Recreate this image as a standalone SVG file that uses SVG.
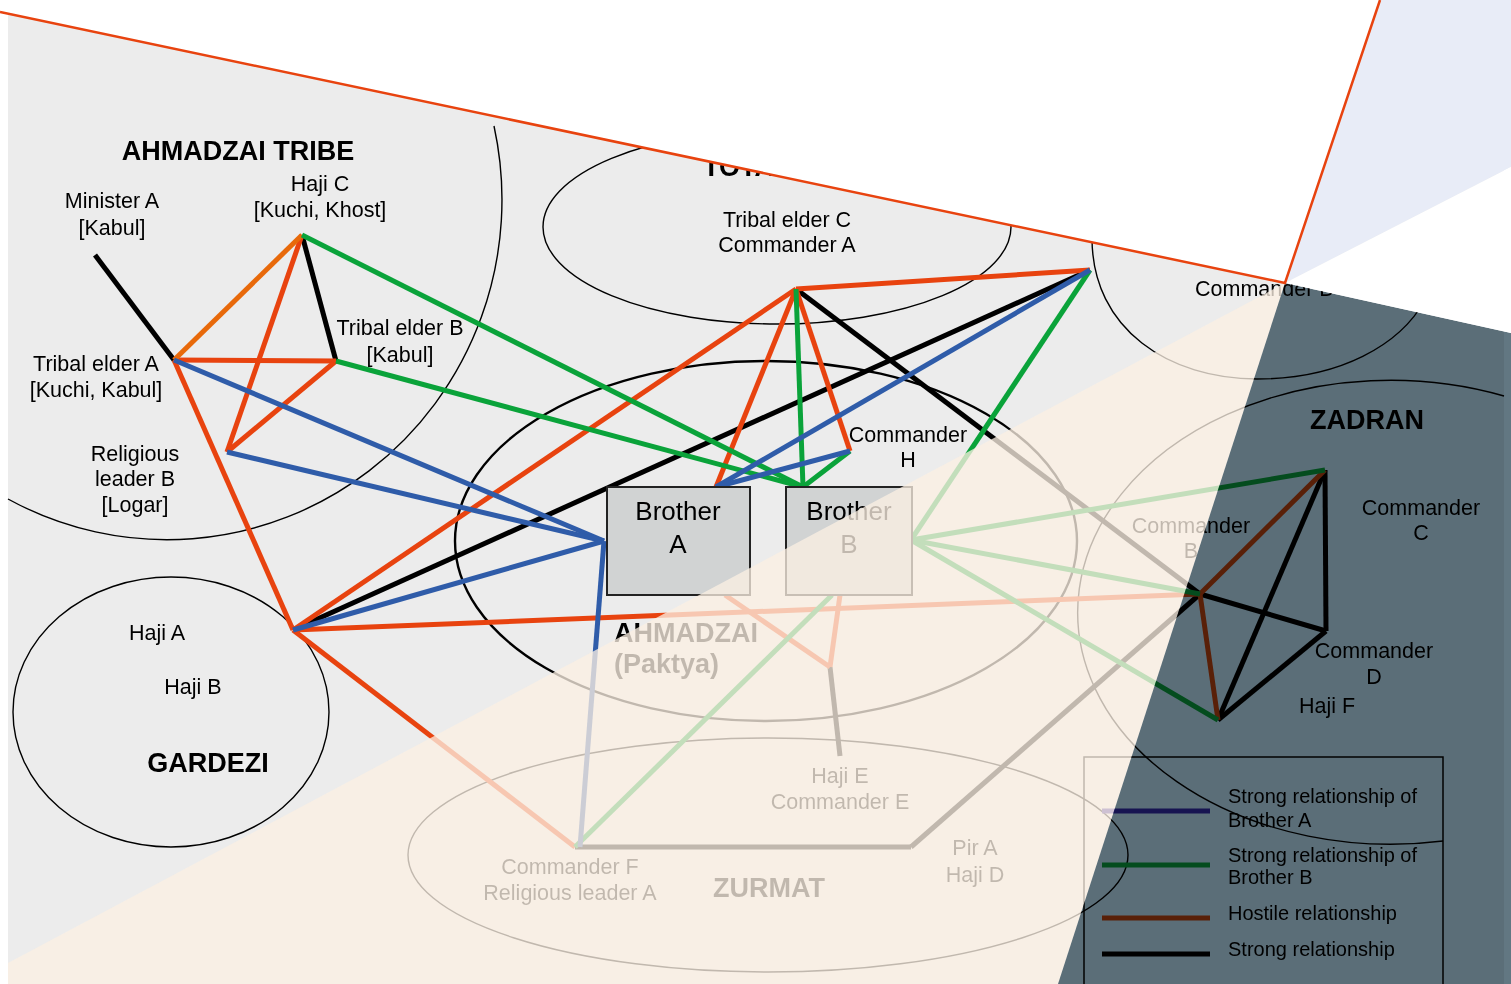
<svg xmlns="http://www.w3.org/2000/svg" width="1511" height="984" viewBox="0 0 1511 984">
<style>
text{font-family:"Liberation Sans",Arial,sans-serif;font-size:21.5px;fill:#000;text-anchor:middle}
.t{font-weight:bold;font-size:27px}
.bro{font-size:26px}
.lg{font-size:20px;text-anchor:start}
.ring{fill:none;stroke:#000;stroke-width:1.4}
.thick{stroke-width:2.4}
#connectors line{stroke-width:5}
.k{stroke:#000}.r{stroke:#e8430f}.o{stroke:#e8690a}.g{stroke:#0aa33a}.b{stroke:#2f5ca9}
.box{fill:#d1d3d3;stroke:#222;stroke-width:2}
</style>
<rect width="1511" height="984" fill="#fff"/>
<rect x="8" y="0" width="1496" height="984" fill="#ececec"/>
<g id="groups">
<path class="ring" d="M494,126 A335,340 0 0,1 8,499"/>
<ellipse class="ring" cx="777" cy="227" rx="234" ry="97"/>
<path class="ring" d="M1092,238 C1092,330 1170,379 1257,379 C1340,379 1400,345 1425,300"/>
<ellipse class="ring thick" cx="766" cy="541" rx="311" ry="180"/>
<ellipse class="ring" cx="171" cy="712" rx="158" ry="135"/>
<ellipse class="ring" cx="768" cy="855" rx="360" ry="117"/>
<path class="ring" d="M1504,396 A313,232 0 1,0 1443,841"/>
</g>
<g id="connectors">
<line class="k" x1="95" y1="255" x2="174" y2="360"/>
<line class="k" x1="302" y1="235" x2="336" y2="361"/>
<line class="k" x1="293" y1="630" x2="1090" y2="270"/>
<line class="k" x1="796" y1="289" x2="1200" y2="594"/>
<line class="k" x1="1200" y1="594" x2="1326" y2="631"/>
<line class="k" x1="1325" y1="470" x2="1326" y2="631"/>
<line class="k" x1="1325" y1="470" x2="1218" y2="720"/>
<line class="k" x1="1326" y1="631" x2="1218" y2="720"/>
<line class="k" x1="1200" y1="594" x2="911" y2="847"/>
<line class="k" x1="575" y1="847" x2="911" y2="847"/>
<line class="k" x1="830" y1="667" x2="840" y2="756"/>
<line class="r" x1="302" y1="235" x2="227" y2="452"/>
<line class="r" x1="174" y1="360" x2="336" y2="361"/>
<line class="r" x1="336" y1="361" x2="227" y2="452"/>
<line class="r" x1="174" y1="360" x2="293" y2="630"/>
<line class="r" x1="293" y1="630" x2="796" y2="289"/>
<line class="r" x1="796" y1="289" x2="1090" y2="270"/>
<line class="r" x1="796" y1="289" x2="716" y2="487"/>
<line class="r" x1="796" y1="289" x2="850" y2="451"/>
<line class="r" x1="293" y1="630" x2="1200" y2="594"/>
<line class="r" x1="293" y1="630" x2="575" y2="847"/>
<line class="r" x1="725" y1="595" x2="830" y2="667"/>
<line class="r" x1="840" y1="595" x2="830" y2="667"/>
<line class="r" x1="1200" y1="594" x2="1325" y2="470"/>
<line class="r" x1="1200" y1="594" x2="1218" y2="720"/>
<line class="o" x1="302" y1="235" x2="174" y2="360"/>
<line class="g" x1="302" y1="235" x2="803" y2="487"/>
<line class="g" x1="336" y1="361" x2="803" y2="487"/>
<line class="g" x1="796" y1="289" x2="803" y2="487"/>
<line class="g" x1="850" y1="451" x2="803" y2="487"/>
<line class="g" x1="911" y1="540" x2="1090" y2="270"/>
<line class="g" x1="911" y1="540" x2="1325" y2="470"/>
<line class="g" x1="911" y1="540" x2="1200" y2="594"/>
<line class="g" x1="911" y1="540" x2="1218" y2="720"/>
<line class="g" x1="832" y1="595" x2="575" y2="847"/>
<line class="b" x1="174" y1="360" x2="604" y2="541"/>
<line class="b" x1="227" y1="452" x2="604" y2="541"/>
<line class="b" x1="293" y1="630" x2="604" y2="541"/>
<line class="b" x1="604" y1="541" x2="580" y2="847"/>
<line class="b" x1="716" y1="487" x2="1090" y2="270"/>
<line class="b" x1="716" y1="487" x2="850" y2="451"/>
</g>
<g id="ahmadzai-tribe"><text class="t" x="238" y="160">AHMADZAI TRIBE</text></g>
<g id="minister-a"><text x="112" y="208">Minister A</text><text x="112" y="235">[Kabul]</text></g>
<g id="haji-c"><text x="320" y="191">Haji C</text><text x="320" y="217">[Kuchi, Khost]</text></g>
<g id="tribal-elder-b"><text x="400" y="335">Tribal elder B</text><text x="400" y="362">[Kabul]</text></g>
<g id="tribal-elder-a"><text x="96" y="371">Tribal elder A</text><text x="96" y="397">[Kuchi, Kabul]</text></g>
<g id="religious-leader-b"><text x="135" y="461">Religious</text><text x="135" y="486">leader B</text><text x="135" y="512">[Logar]</text></g>
<g id="totakhel"><text class="t" x="703" y="176" style="text-anchor:start">TOTAKHEL</text></g>
<g id="tribal-elder-c"><text x="787" y="227">Tribal elder C</text><text x="787" y="252">Commander A</text></g>
<g id="commander-b-top"><text x="1195" y="296" style="text-anchor:start">Commander B</text></g>
<g id="commander-h"><text x="908" y="442">Commander</text><text x="908" y="467">H</text></g>
<g id="brother-a"><rect class="box" x="607" y="487" width="143" height="108"/><text class="bro" x="678" y="520">Brother</text><text class="bro" x="678" y="553">A</text></g>
<g id="brother-b"><rect class="box" x="786" y="487" width="126" height="108"/><text class="bro" x="849" y="520">Brother</text><text class="bro" x="849" y="553">B</text></g>
<g id="ahmadzai-paktya"><text class="t" x="614" y="642" style="text-anchor:start">AHMADZAI</text><text class="t" x="614" y="673" style="text-anchor:start">(Paktya)</text></g>
<g id="gardezi"><text x="157" y="640">Haji A</text><text x="193" y="694">Haji B</text><text class="t" x="208" y="772">GARDEZI</text></g>
<g id="haji-e"><text x="840" y="783">Haji E</text><text x="840" y="809">Commander E</text></g>
<g id="commander-f"><text x="570" y="874">Commander F</text><text x="570" y="900">Religious leader A</text></g>
<g id="zurmat"><text class="t" x="769" y="897">ZURMAT</text></g>
<g id="pir-a"><text x="975" y="855">Pir A</text><text x="975" y="882">Haji D</text></g>
<g id="zadran"><text class="t" x="1367" y="429">ZADRAN</text></g>
<g id="commander-c"><text x="1421" y="515">Commander</text><text x="1421" y="540">C</text></g>
<g id="commander-b"><text x="1191" y="533">Commander</text><text x="1191" y="558">B</text></g>
<g id="commander-d"><text x="1374" y="658">Commander</text><text x="1374" y="684">D</text></g>
<g id="haji-f"><text x="1327" y="713">Haji F</text></g>
<g id="legend">
<rect x="1084" y="757" width="359" height="240" fill="none" stroke="#000" stroke-width="1.5"/>
<line x1="1102" y1="811" x2="1210" y2="811" stroke="#3a2a9e" stroke-width="5"/>
<line x1="1102" y1="865" x2="1210" y2="865" stroke="#0aa33a" stroke-width="5"/>
<line x1="1102" y1="918" x2="1210" y2="918" stroke="#e8430f" stroke-width="5"/>
<line x1="1102" y1="954" x2="1210" y2="954" stroke="#000" stroke-width="5"/>
<text class="lg" x="1228" y="803">Strong relationship of</text><text class="lg" x="1228" y="827">Brother A</text>
<text class="lg" x="1228" y="862">Strong relationship of</text><text class="lg" x="1228" y="884">Brother B</text>
<text class="lg" x="1228" y="920">Hostile relationship</text>
<text class="lg" x="1228" y="956">Strong relationship</text>
</g>
<g id="overlays">
<polygon points="1285,283 1058,984 8,984 8,963" fill="#fbf0e2" fill-opacity="0.77"/>
<polygon points="1285,283 1511,333 1511,984 1058,984" fill="#627782" style="mix-blend-mode:multiply"/>
<polygon points="0,0 1380,0 1285,283 0,12" fill="#fff"/>
<polygon points="1380,0 1511,0 1511,167 1285,283" fill="#e8ecf7"/>
<polygon points="1285,283 1511,167 1511,333" fill="#fff"/>
<polyline points="0,12 1285,283 1380,0" fill="none" stroke="#e8430f" stroke-width="2.5"/>
</g>
</svg>
